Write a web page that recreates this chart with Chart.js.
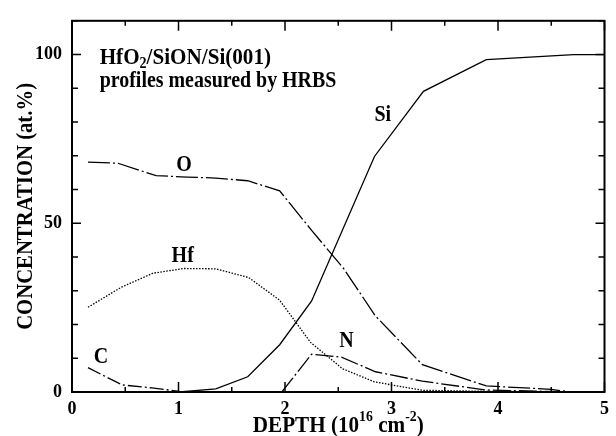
<!DOCTYPE html>
<html>
<head>
<meta charset="utf-8">
<script src="https://cdn.jsdelivr.net/npm/chart.js@4/dist/chart.umd.min.js"></script>
<style>
  html, body { margin: 0; padding: 0; background: #fff; }
</style>
</head>
<body>
<canvas id="chart" width="616" height="436"></canvas>
<script>
// depth in 10^16 cm^-2, concentration in at.%
const oDepth  = [0.15, 0.43, 0.79, 1.08, 1.35, 1.65, 1.95, 2.25, 2.55, 2.85, 3.29, 3.89, 4.5, 4.68];
const oConc   = [68.1, 67.8, 64.1, 63.7, 63.4, 62.6, 59.6, 47.9, 36.6, 22.5, 8.1, 1.8, 0.8, 0];

const hfDepth = [0.15, 0.46, 0.76, 1.05, 1.35, 1.66, 1.95, 2.24, 2.54, 2.84, 3.29, 3.9, 4.7];
const hfConc  = [25.1, 31.0, 35.2, 36.6, 36.5, 33.9, 27.2, 14.7, 6.9, 3.0, 0.5, 0.2, 0];

const siDepth = [1.01, 1.35, 1.65, 1.95, 2.25, 2.84, 3.3, 3.89, 4.71, 5.0];
const siConc  = [0, 0.9, 4.5, 14.0, 27.0, 69.8, 89.1, 98.5, 100, 100];

const cDepth  = [0.15, 0.47, 0.75, 1.01];
const cConc   = [7.2, 2.1, 1.2, 0.2];

const nDepth  = [1.97, 2.25, 2.53, 2.85, 3.29, 3.89, 4.7];
const nConc   = [0, 11.2, 10.3, 6.0, 3.2, 0.6, 0];

const xMajorTicks = [0, 1, 2, 3, 4, 5];
const yMajorTicks = [0, 50, 100];

// element labels: [text, depth, concentration] (left edge, baseline)
const seriesLabels = [
  ['O', 0.98, 65.5],
  ['Hf', 0.935, 38.6],
  ['Si', 2.84, 80.4],
  ['C', 0.205, 8.5],
  ['N', 2.51, 13.2]
];

const FONT = '"Liberation Serif", "Times New Roman", serif';

function pts(xs, ys) {
  return xs.map((x, i) => ({ x: x, y: ys[i] }));
}

function line(label, xs, ys, dash) {
  return {
    label: label,
    data: pts(xs, ys),
    showLine: true,
    borderColor: '#000',
    borderWidth: 1.3,
    borderDash: dash,
    pointRadius: 0,
    tension: 0,
    fill: false
  };
}

// draw a list of text runs, squeezed horizontally like the original font
function runsWidth(ctx, runs, sx) {
  let w = 0;
  runs.forEach(r => {
    ctx.font = 'bold ' + r.size + 'px ' + FONT;
    w += ctx.measureText(r.t).width * sx;
  });
  return w;
}

function drawRuns(ctx, runs, x, y, sx, align) {
  let cx = align === 'center' ? x - runsWidth(ctx, runs, sx) / 2 : x;
  runs.forEach(r => {
    ctx.font = 'bold ' + r.size + 'px ' + FONT;
    const w = ctx.measureText(r.t).width * sx;
    ctx.save();
    ctx.translate(cx, y + (r.dy || 0));
    ctx.scale(sx, 1);
    ctx.fillText(r.t, 0, 0);
    ctx.restore();
    cx += w;
  });
}

const framePlugin = {
  id: 'frame',
  afterDraw(chart) {
    const ctx = chart.ctx;
    const a = chart.chartArea;
    const xs = chart.scales.x;
    const ys = chart.scales.y;
    ctx.save();
    ctx.strokeStyle = '#000';
    ctx.fillStyle = '#000';

    // inward ticks on all four sides
    ctx.lineWidth = 1.5;
    ctx.beginPath();
    xs.ticks.forEach(t => {
      const px = xs.getPixelForValue(t.value);
      const len = xMajorTicks.includes(t.value) ? 10 : 5;
      ctx.moveTo(px, a.bottom);
      ctx.lineTo(px, a.bottom - len);
      ctx.moveTo(px, a.top);
      ctx.lineTo(px, a.top + len);
    });
    ys.ticks.forEach(t => {
      const py = ys.getPixelForValue(t.value);
      const len = yMajorTicks.includes(t.value) ? 9 : 6;
      ctx.moveTo(a.left, py);
      ctx.lineTo(a.left + len, py);
      ctx.moveTo(a.right, py);
      ctx.lineTo(a.right - len, py);
    });
    ctx.stroke();

    ctx.lineWidth = 2;
    ctx.strokeRect(a.left, a.top, a.right - a.left, a.bottom - a.top);

    // in-plot text
    ctx.textBaseline = 'alphabetic';
    seriesLabels.forEach(l => {
      drawRuns(ctx, [{ t: l[0], size: 23 }],
        xs.getPixelForValue(l[1]), ys.getPixelForValue(l[2]), 0.87, 'left');
    });
    const tx = xs.getPixelForValue(0.26);
    drawRuns(ctx, [
      { t: 'HfO', size: 24 },
      { t: '2', size: 16, dy: 4 },
      { t: '/SiON/Si(001)', size: 24 }
    ], tx, ys.getPixelForValue(97.3), 0.88, 'left');
    drawRuns(ctx, [{ t: 'profiles measured by HRBS', size: 24 }],
      tx, ys.getPixelForValue(90.3), 0.83, 'left');

    // axis titles
    drawRuns(ctx, [
      { t: 'DEPTH (10', size: 23 },
      { t: '16', size: 15, dy: -11 },
      { t: ' cm', size: 23 },
      { t: '-2', size: 15, dy: -11 },
      { t: ')', size: 23 }
    ], (a.left + a.right) / 2, 432, 0.92, 'center');

    ctx.save();
    ctx.translate(32, (a.top + a.bottom) / 2);
    ctx.rotate(-Math.PI / 2);
    drawRuns(ctx, [{ t: 'CONCENTRATION (at.%)', size: 23 }], 0, 0, 0.9, 'center');
    ctx.restore();

    ctx.restore();
  }
};

const tickFont = { family: FONT, size: 18, weight: 'bold' };

new Chart(document.getElementById('chart'), {
  type: 'scatter',
  data: {
    datasets: [
      line('O', oDepth, oConc, [22, 3, 2, 3]),
      line('Hf', hfDepth, hfConc, [1.5, 1.5]),
      line('Si', siDepth, siConc, []),
      line('C', cDepth, cConc, [14, 3, 2, 3]),
      line('N', nDepth, nConc, [18, 3, 2, 3])
    ]
  },
  options: {
    responsive: false,
    animation: false,
    layout: { padding: { top: 15, right: 9, left: 0, bottom: 0 } },
    plugins: { legend: { display: false }, tooltip: { enabled: false } },
    scales: {
      x: {
        type: 'linear',
        min: 0,
        max: 5,
        grid: { display: false, drawTicks: false },
        border: { display: false },
        ticks: {
          stepSize: 0.5,
          padding: 7,
          color: '#000',
          font: tickFont,
          maxRotation: 0,
          callback: v => xMajorTicks.includes(v) ? String(v) : ''
        },
        afterFit: s => { s.height = 44; }
      },
      y: {
        type: 'linear',
        min: 0,
        max: 110,
        grid: { display: false, drawTicks: false },
        border: { display: false },
        ticks: {
          stepSize: 10,
          padding: 10,
          color: '#000',
          font: tickFont,
          callback: v => yMajorTicks.includes(v) ? String(v) : ''
        },
        afterFit: s => { s.width = 72; }
      }
    }
  },
  plugins: [framePlugin]
});
</script>
</body>
</html>
